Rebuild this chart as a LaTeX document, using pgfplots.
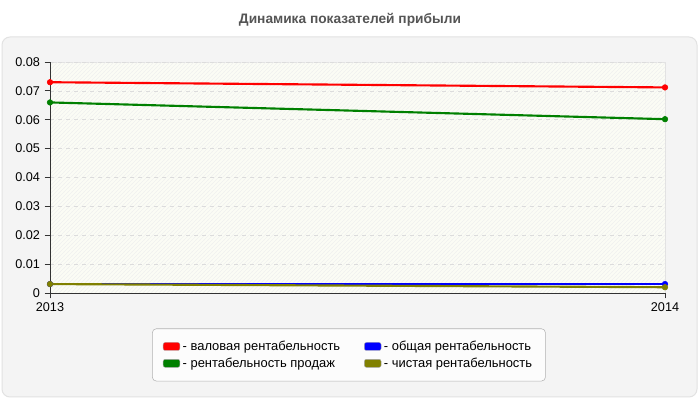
\documentclass[border=0pt]{standalone}
\usepackage{pgfplots}
\pgfplotsset{compat=1.18}
\usepackage{fontspec}
\setmainfont{Liberation Sans}
\usetikzlibrary{patterns}

\definecolor{panelbg}{HTML}{F4F4F4}
\definecolor{panelborder}{HTML}{E2E2E2}
\definecolor{plotbg}{HTML}{FBFCF5}
\definecolor{gridc}{HTML}{DCDCDC}
\definecolor{axisc}{HTML}{333333}
\definecolor{titlec}{HTML}{555555}
\definecolor{cRed}{HTML}{FF0000}
\definecolor{cGreen}{HTML}{008000}
\definecolor{cBlue}{HTML}{0000FF}
\definecolor{cOlive}{HTML}{808000}

\begin{document}
\begin{tikzpicture}
% page and panel (pixel units, 1px = 0.75pt, origin bottom left)
\begin{scope}[x=0.75pt,y=0.75pt]
\path[fill=white] (0,0) rectangle (700,400);
\draw[panelborder, fill=panelbg, line width=0.75pt, rounded corners=6pt] (2,3) rectangle (697,363);
\node[font=\bfseries\fontsize{10.3}{12}\selectfont, text=titlec] at (350,380) {Динамика показателей прибыли};
\end{scope}

\begin{axis}[
    at={(37.5pt,80.25pt)}, anchor=south west,
    scale only axis,
    width=461.25pt, height=173.25pt,
    xmin=0, xmax=1,
    ymin=0, ymax=0.08,
    xtick={0,1},
    xticklabels={2013,2014},
    ytick={0,0.01,0.02,0.03,0.04,0.05,0.06,0.07,0.08},
    scaled y ticks=false,
    yticklabel style={/pgf/number format/fixed, /pgf/number format/precision=2},
    /pgf/number format/assume math mode=true,
    tick label style={font=\fontsize{9.5}{10}\selectfont, text=black},
    axis line style={axisc, line width=0.6pt},
    axis x line*=bottom, axis y line*=left,
    tick align=outside,
    tick style={axisc, line width=0.6pt},
    major tick length=4pt,
    ymajorgrids=true,
    grid style={gridc, dashed, line width=0.5pt},
    axis background/.style={fill=plotbg, draw=panelborder,
        postaction={pattern=north east lines, pattern color=gray!12}},
    clip=false,
    legend columns=2,
    legend cell align=left,
    legend style={at={(0.486,-0.268)}, anchor=center,
        draw=gray!60, fill=white!98!gray, rounded corners=3pt,
        font=\fontsize{9.7}{12}\selectfont,
        inner xsep=8pt, inner ysep=7pt,
        /tikz/every even column/.append style={column sep=16pt}},
    legend image code/.code={
        \draw[#1, fill, draw=gray!70, line width=0.3pt, rounded corners=1.5pt] (0pt,-3pt) rectangle (12.5pt,3pt);
    },
    every axis plot/.append style={line width=1.6pt, mark=*, mark size=2.1pt,
        mark options={line width=0.4pt}},
]
\addplot[cRed] coordinates {(0,0.073) (1,0.0712)};
\addlegendentry{- валовая рентабельность}
\addplot[cBlue] coordinates {(0,0.0031) (1,0.0031)};
\addlegendentry{- общая рентабельность}
\addplot[cGreen] coordinates {(0,0.066) (1,0.0602)};
\addlegendentry{- рентабельность продаж}
\addplot[cOlive] coordinates {(0,0.0031) (1,0.0020)};
\addlegendentry{- чистая рентабельность}
\end{axis}
\end{tikzpicture}
\end{document}
